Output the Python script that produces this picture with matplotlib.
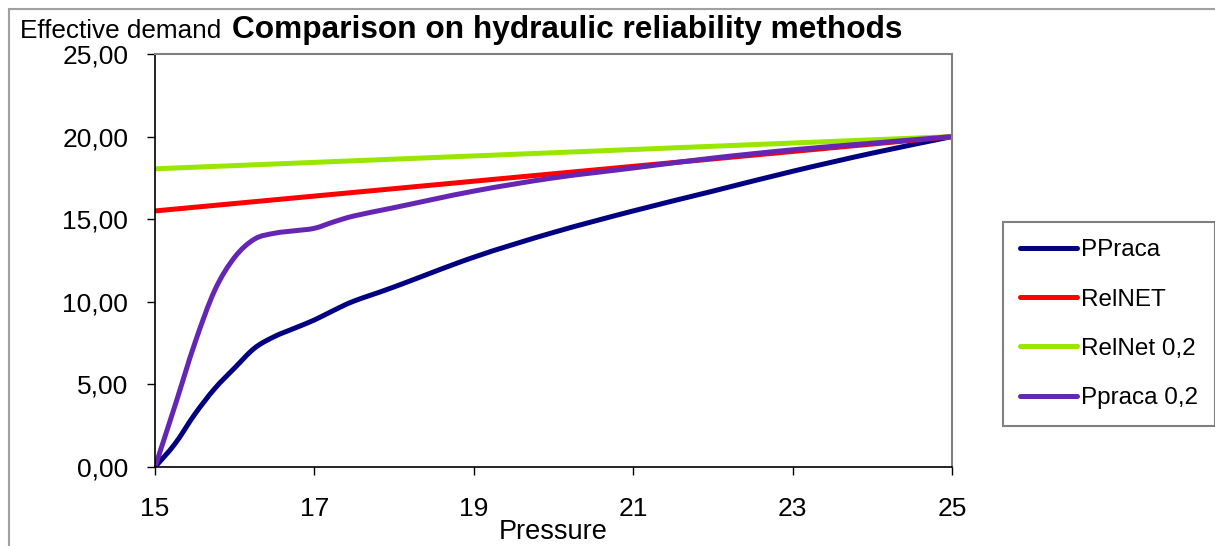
import matplotlib
matplotlib.use("Agg")
import matplotlib.pyplot as plt
import numpy as np
from matplotlib.patches import Rectangle, PathPatch
from matplotlib.path import Path
from matplotlib.lines import Line2D

plt.rcParams['font.family'] = ['Liberation Sans', 'DejaVu Sans']

# values
pressure = [15, 15.25, 15.5, 15.75, 16, 16.25, 16.5, 16.75, 17, 17.25, 17.5,
            18, 19, 20, 21, 22, 23, 24, 25]
ppraca = [0, 1.4, 3.2, 4.75, 6.0, 7.2, 7.9, 8.4, 8.9, 9.5, 10.05,
          10.9, 12.7, 14.2, 15.5, 16.7, 17.9, 19.0, 20.0]
ppraca_02 = [0, 3.7, 7.5, 10.7, 12.7, 13.8, 14.15, 14.3, 14.45, 14.85, 15.2,
             15.7, 16.7, 17.5, 18.1, 18.7, 19.2, 19.6, 20.0]

rel_x = [15, 25]
relnet = [15.5, 20.0]
relnet_02 = [18.05, 20.0]

x_ticks = [15, 17, 19, 21, 23, 25]
y_ticks = [0, 5, 10, 15, 20, 25]


def smooth_path(xs, ys):
    # Excel-like smoothed line: cubic bezier through the points
    p = np.column_stack([xs, ys]).astype(float)
    verts = [p[0]]
    codes = [Path.MOVETO]
    for i in range(len(p) - 1):
        p0 = p[i - 1] if i > 0 else p[i]
        p3 = p[i + 2] if i + 2 < len(p) else p[i + 1]
        c1 = p[i] + (p[i + 1] - p0) / 6
        c2 = p[i + 1] - (p3 - p[i]) / 6
        verts += [c1, c2, p[i + 1]]
        codes += [Path.CURVE4] * 3
    return Path(verts, codes)


W, H = 1215, 546
fig = plt.figure(figsize=(W / 100, H / 100), dpi=100)
ax = fig.add_axes([155 / W, 1 - 467 / H, (952 - 155) / W, (467 - 54) / H])

lw = 3.6
series = [
    ('PPraca', pressure, ppraca, '#000080'),
    ('RelNET', rel_x, relnet, '#ff0000'),
    ('RelNet 0,2', rel_x, relnet_02, '#99e600'),
    ('Ppraca 0,2', pressure, ppraca_02, '#6626b4'),
]
handles = []
for name, xs, ys, col in series:
    ax.add_patch(PathPatch(smooth_path(xs, ys), facecolor='none', edgecolor=col,
                           lw=lw, joinstyle='round', capstyle='round'))
    handles.append(Line2D([], [], color=col, lw=lw, solid_capstyle='round', label=name))

ax.set_xlim(15, 25)
ax.set_ylim(0, 25)
ax.set_xticks(x_ticks)
ax.set_xticklabels([str(t) for t in x_ticks])
ax.set_yticks(y_ticks)
ax.set_yticklabels([f"{t:.2f}".replace('.', ',') for t in y_ticks])
ax.tick_params(axis='x', direction='out', length=5.8, width=1, pad=16, labelsize=19)
ax.tick_params(axis='y', direction='out', length=5.8, width=1, pad=13.5, labelsize=19)

for s in ['left', 'bottom']:
    ax.spines[s].set_color('black')
    ax.spines[s].set_linewidth(1.2)
for s in ['top', 'right']:
    ax.spines[s].set_color('#808080')
    ax.spines[s].set_linewidth(1.5)

leg = ax.legend(handles=handles, loc='upper left', bbox_to_anchor=(1003 / W, 1 - 222 / H),
                bbox_transform=fig.transFigure, borderaxespad=0, fontsize=17.5,
                frameon=True, fancybox=False, edgecolor='#808080', framealpha=1,
                handlelength=2.35, handletextpad=0.17, borderpad=0.7,
                labelspacing=1.13)
leg.get_frame().set_linewidth(1.5)

fig.text(20 / W, 1 - 38 / H, 'Effective demand', fontsize=18.8, va='baseline', ha='left')
fig.text(567 / W, 1 - 38 / H, 'Comparison on hydraulic reliability methods',
         fontsize=22.8, fontweight='bold', va='baseline', ha='center')
fig.text(553 / W, 1 - 532 / H, 'Pressure', fontsize=19.5, va='center', ha='center')

# outer chart border (cut off on the right and bottom)
fig.patches.append(Rectangle((8.5 / W, -0.1), 1.2, 1 - 8.5 / H + 0.1,
                             transform=fig.transFigure, fill=False,
                             edgecolor='#a0a0a0', lw=1.5))

fig.savefig('out.png', dpi=100)
